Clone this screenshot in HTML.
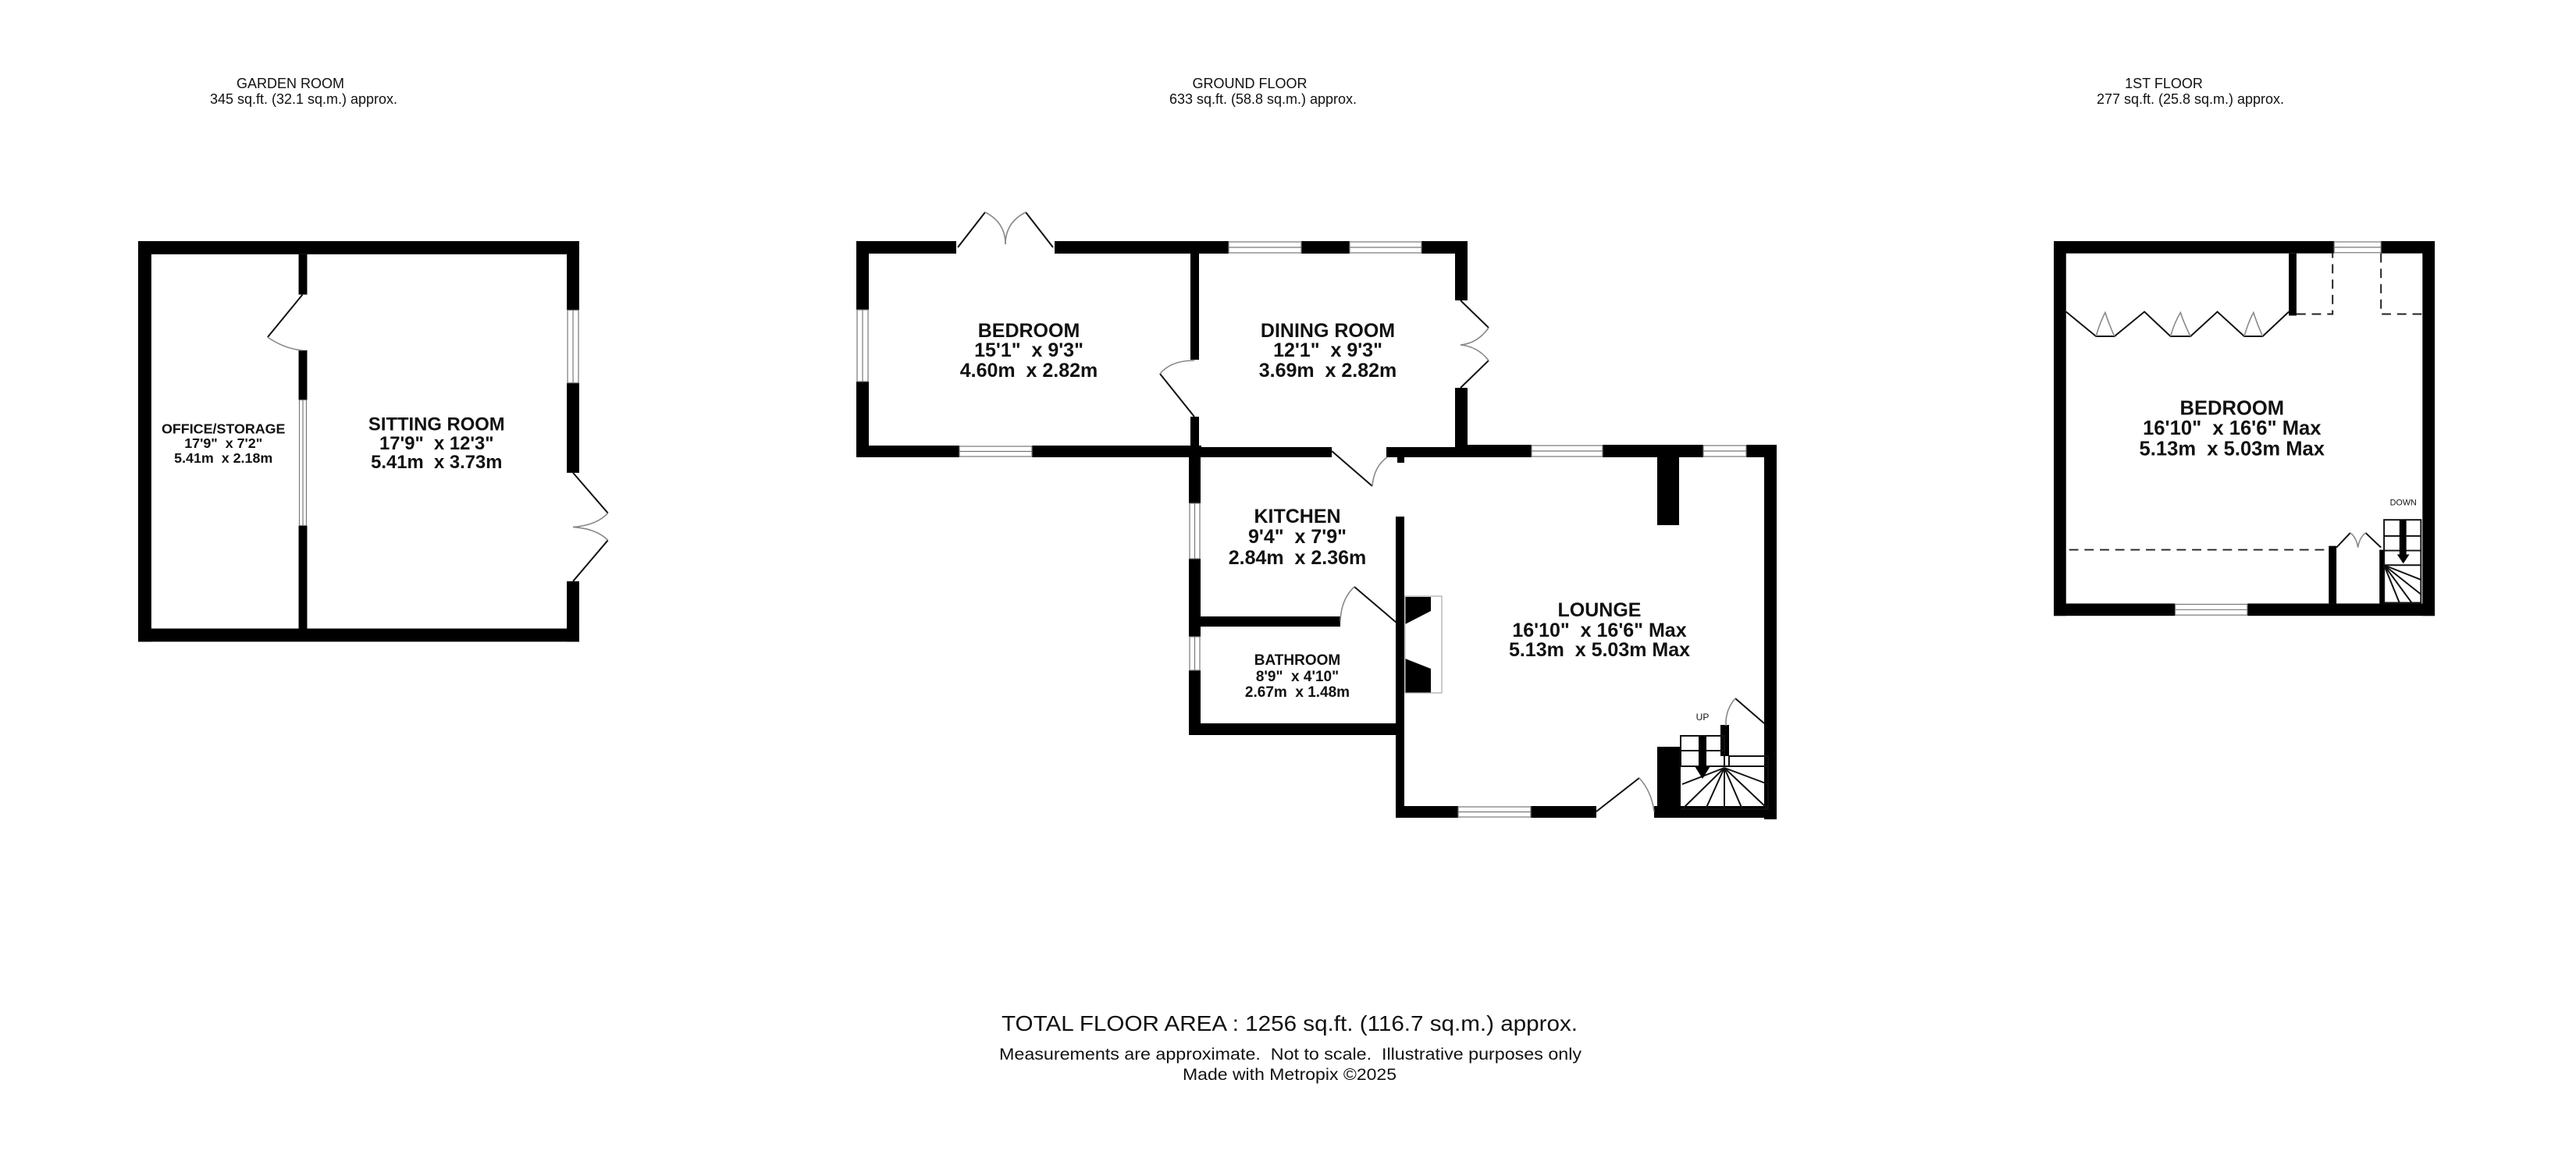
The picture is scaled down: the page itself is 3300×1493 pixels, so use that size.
<!DOCTYPE html>
<html><head><meta charset="utf-8"><style>
html,body{margin:0;padding:0;background:#fff;}
svg{display:block;}
text{font-family:"Liberation Sans",Arial,sans-serif;fill:#111;white-space:pre;}
.b{font-weight:bold;}
.w{fill:#fff;stroke:#777;stroke-width:1.2;}
.ln{stroke:#111;stroke-width:2;fill:none;}
.arc{stroke:#888;stroke-width:1.6;fill:none;}
.ds{stroke:#222;stroke-width:2;fill:none;stroke-dasharray:12,8;}
</style></head><body>
<svg width="3300" height="1493" viewBox="0 0 3300 1493" xmlns="http://www.w3.org/2000/svg" xml:space="preserve">
<rect width="3300" height="1493" fill="#fff"/>

<!-- Headers -->
<text x="372" y="113" font-size="18" text-anchor="middle">GARDEN ROOM</text>
<text x="389" y="133" font-size="18" text-anchor="middle">345 sq.ft. (32.1 sq.m.) approx.</text>
<text x="1601" y="113" font-size="18" text-anchor="middle">GROUND FLOOR</text>
<text x="1618" y="133" font-size="18" text-anchor="middle">633 sq.ft. (58.8 sq.m.) approx.</text>
<text x="2772" y="113" font-size="18" text-anchor="middle">1ST FLOOR</text>
<text x="2806" y="133" font-size="18" text-anchor="middle">277 sq.ft. (25.8 sq.m.) approx.</text>

<!-- ============ GARDEN ROOM ============ -->
<g transform="translate(177,309) scale(0.993) translate(-177,-309)">
<g fill="#000">
<rect x="177" y="309" width="569" height="17"/>
<rect x="177" y="809" width="569" height="17"/>
<rect x="177" y="309" width="17" height="517"/>
<rect x="730" y="309" width="16" height="89"/>
<rect x="730" y="492" width="16" height="116"/>
<rect x="730" y="748" width="16" height="78"/>
<rect x="384" y="326" width="11" height="52"/>
<rect x="384" y="450" width="11" height="64"/>
<rect x="384" y="676" width="11" height="133"/>
</g>
<rect class="w" x="731" y="398" width="14" height="94"/><line x1="738" y1="398" x2="738" y2="492" stroke="#777" stroke-width="1.2"/>
<rect class="w" x="385" y="514" width="9" height="162"/><line x1="389.5" y1="514" x2="389.5" y2="676" stroke="#777" stroke-width="1.2"/>
<line class="ln" x1="389" y1="378" x2="344" y2="433"/>
<path class="arc" d="M344 433 Q366 448 389 450"/>
<line class="ln" x1="738" y1="608" x2="783" y2="660"/>
<path class="arc" d="M783 660 Q768 676 738 678"/>
<line class="ln" x1="738" y1="748" x2="783" y2="695"/>
<path class="arc" d="M783 695 Q768 680 738 678"/>
<text class="b" x="287" y="557" font-size="18" text-anchor="middle">OFFICE/STORAGE</text>
<text class="b" x="287" y="576" font-size="18" text-anchor="middle">17'9"  x 7'2"</text>
<text class="b" x="287" y="595" font-size="18" text-anchor="middle">5.41m  x 2.18m</text>
<text class="b" x="562" y="553" font-size="24" text-anchor="middle">SITTING ROOM</text>
<text class="b" x="562" y="578" font-size="24" text-anchor="middle">17'9"  x 12'3"</text>
<text class="b" x="562" y="602" font-size="24" text-anchor="middle">5.41m  x 3.73m</text>
</g>

<!-- ============ GROUND FLOOR ============ -->
<g fill="#000">
<rect x="1097" y="309" width="128" height="16"/>
<rect x="1351" y="309" width="223" height="16"/>
<rect x="1667" y="309" width="62" height="16"/>
<rect x="1821" y="309" width="59" height="16"/>
<rect x="1864" y="309" width="16" height="76"/>
<rect x="1864" y="497" width="16" height="89"/>
<rect x="1097" y="309" width="16" height="88"/>
<rect x="1097" y="489" width="16" height="97"/>
<rect x="1097" y="571" width="132" height="15"/>
<rect x="1322" y="571" width="217" height="15"/>
<rect x="1525" y="325" width="11" height="136"/>
<rect x="1525" y="534" width="11" height="52"/>
<rect x="1536" y="573" width="170" height="13"/>
<rect x="1776" y="573" width="88" height="13"/>
<rect x="1790" y="586" width="9" height="7"/>
<rect x="1864" y="570" width="98" height="16"/>
<rect x="2053" y="570" width="129" height="16"/>
<rect x="2237" y="570" width="39" height="16"/>
<rect x="2260" y="570" width="16" height="480"/>
<rect x="2123" y="586" width="28" height="87"/>
<rect x="1523" y="586" width="15" height="59"/>
<rect x="1523" y="716" width="15" height="100"/>
<rect x="1523" y="859" width="15" height="83"/>
<rect x="1538" y="790" width="179" height="13"/>
<rect x="1788" y="662" width="11" height="386"/>
<rect x="1523" y="927" width="276" height="15"/>
<rect x="1788" y="1033" width="80" height="15"/>
<rect x="1961" y="1033" width="84" height="15"/>
<rect x="2119" y="1033" width="157" height="15"/>
<rect x="2123" y="957" width="30" height="80"/>
<rect x="2204" y="929" width="11" height="40"/>
<polygon points="1800,765 1833,765 1833,783 1800,800"/>
<polygon points="1800,844 1833,857 1833,888 1800,888"/>
</g>
<rect x="1800" y="764" width="47" height="124" fill="none" stroke="#aaa" stroke-width="1.2"/>
<rect class="w" x="1574" y="310" width="93" height="14"/><line x1="1574" y1="317" x2="1667" y2="317" stroke="#777" stroke-width="1.2"/>
<rect class="w" x="1729" y="310" width="92" height="14"/><line x1="1729" y1="317" x2="1821" y2="317" stroke="#777" stroke-width="1.2"/>
<rect class="w" x="1098" y="397" width="14" height="92"/><line x1="1105" y1="397" x2="1105" y2="489" stroke="#777" stroke-width="1.2"/>
<rect class="w" x="1229" y="572" width="93" height="13"/><line x1="1229" y1="578.5" x2="1322" y2="578.5" stroke="#777" stroke-width="1.2"/>
<rect class="w" x="1962" y="571" width="91" height="14"/><line x1="1962" y1="578" x2="2053" y2="578" stroke="#777" stroke-width="1.2"/>
<rect class="w" x="2182" y="571" width="55" height="14"/><line x1="2182" y1="578" x2="2237" y2="578" stroke="#777" stroke-width="1.2"/>
<rect class="w" x="1524" y="645" width="13" height="71"/><line x1="1530.5" y1="645" x2="1530.5" y2="716" stroke="#777" stroke-width="1.2"/>
<rect class="w" x="1524" y="816" width="13" height="43"/><line x1="1530.5" y1="816" x2="1530.5" y2="859" stroke="#777" stroke-width="1.2"/>
<rect class="w" x="1868" y="1034" width="93" height="13"/><line x1="1868" y1="1040.5" x2="1961" y2="1040.5" stroke="#777" stroke-width="1.2"/>
<line class="ln" x1="1227" y1="317" x2="1262" y2="272"/>
<path class="arc" d="M1262 272 Q1288 285 1288 313"/>
<line class="ln" x1="1349" y1="317" x2="1314" y2="272"/>
<path class="arc" d="M1314 272 Q1288 285 1288 313"/>
<line class="ln" x1="1871" y1="385" x2="1907" y2="420"/>
<path class="arc" d="M1907 420 Q1893 440 1871 442"/>
<line class="ln" x1="1871" y1="497" x2="1907" y2="462"/>
<path class="arc" d="M1907 462 Q1893 444 1871 442"/>
<line class="ln" x1="1530" y1="534" x2="1486" y2="479"/>
<path class="arc" d="M1486 479 Q1500 462 1530 462"/>
<line class="ln" x1="1706" y1="578" x2="1758" y2="623"/>
<path class="arc" d="M1758 623 Q1760 598 1777 586"/>
<line class="ln" x1="1789" y1="798" x2="1735" y2="752"/>
<path class="arc" d="M1735 752 Q1718 768 1717 796"/>
<line class="ln" x1="2045" y1="1040" x2="2100" y2="997"/>
<path class="arc" d="M2100 997 Q2116 1015 2119 1040"/>
<line class="ln" x1="2260" y1="927" x2="2223" y2="895"/>
<path class="arc" d="M2223 895 Q2210 910 2211 930"/>
<g stroke="#111" stroke-width="2" fill="none">
<rect x="2153" y="943" width="56" height="39"/>
<line x1="2153" y1="962" x2="2209" y2="962"/>
<rect x="2215" y="969" width="50" height="13"/>
<line x1="2153" y1="982" x2="2265" y2="982"/>
<line x1="2153" y1="1037" x2="2265" y2="1037"/>
<line x1="2265" y1="982" x2="2265" y2="1037"/>
<line x1="2209" y1="984" x2="2155" y2="1005"/>
<line x1="2209" y1="984" x2="2155" y2="1037"/>
<line x1="2209" y1="984" x2="2185" y2="1037"/>
<line x1="2209" y1="984" x2="2209" y2="1037"/>
<line x1="2209" y1="984" x2="2232" y2="1037"/>
<line x1="2209" y1="984" x2="2265" y2="1037"/>
<line x1="2209" y1="984" x2="2265" y2="1005"/>
</g>
<rect x="2176" y="943" width="10" height="39" fill="#000"/>
<polygon points="2171,982 2191,982 2181,998" fill="#000"/>
<text x="2181" y="923" font-size="12" text-anchor="middle">UP</text>
<text class="b" x="1318" y="432" font-size="25" text-anchor="middle">BEDROOM</text>
<text class="b" x="1318" y="457" font-size="25" text-anchor="middle">15'1"  x 9'3"</text>
<text class="b" x="1318" y="483" font-size="25" text-anchor="middle">4.60m  x 2.82m</text>
<text class="b" x="1701" y="432" font-size="25" text-anchor="middle">DINING ROOM</text>
<text class="b" x="1701" y="457" font-size="25" text-anchor="middle">12'1"  x 9'3"</text>
<text class="b" x="1701" y="483" font-size="25" text-anchor="middle">3.69m  x 2.82m</text>
<text class="b" x="1662" y="670" font-size="25" text-anchor="middle">KITCHEN</text>
<text class="b" x="1662" y="696" font-size="25" text-anchor="middle">9'4"  x 7'9"</text>
<text class="b" x="1662" y="723" font-size="25" text-anchor="middle">2.84m  x 2.36m</text>
<text class="b" x="1662" y="852" font-size="19" text-anchor="middle">BATHROOM</text>
<text class="b" x="1662" y="873" font-size="19" text-anchor="middle">8'9"  x 4'10"</text>
<text class="b" x="1662" y="893" font-size="19" text-anchor="middle">2.67m  x 1.48m</text>
<text class="b" x="2049" y="790" font-size="25" text-anchor="middle">LOUNGE</text>
<text class="b" x="2049" y="816" font-size="25" text-anchor="middle">16'10"  x 16'6" Max</text>
<text class="b" x="2049" y="841" font-size="25" text-anchor="middle">5.13m  x 5.03m Max</text>

<!-- ============ 1ST FLOOR ============ -->
<g transform="translate(2631,309) scale(0.984) translate(-2632,-309)">
<g fill="#000">
<rect x="2632" y="309" width="365" height="16"/>
<rect x="3058" y="309" width="70" height="16"/>
<rect x="2632" y="309" width="16" height="488"/>
<rect x="3112" y="309" width="16" height="488"/>
<rect x="2632" y="781" width="158" height="16"/>
<rect x="2884" y="781" width="244" height="16"/>
<rect x="2938" y="325" width="10" height="81"/>
<rect x="2990" y="706" width="10" height="75"/>
<rect x="3056" y="711" width="7" height="70"/>
</g>
<rect class="w" x="2997" y="310" width="61" height="14"/><line x1="2997" y1="317" x2="3058" y2="317" stroke="#777" stroke-width="1.2"/>
<rect class="w" x="2790" y="782" width="94" height="14"/><line x1="2790" y1="789" x2="2884" y2="789" stroke="#777" stroke-width="1.2"/>
<path class="ds" d="M2948 404 H2995 V325"/>
<path class="ds" d="M3058 325 V404 H3112"/>
<path class="ds" d="M2652 711 H2990"/>
<polyline class="ln" points="2648,401 2687,433 2711,433 2750,401 2784,433 2810,433 2845,401 2880,433 2904,433 2938,401"/>
<path class="arc" d="M2687 433 Q2692 415 2699 402 Q2703 415 2711 433"/>
<path class="arc" d="M2784 433 Q2789 415 2797 402 Q2801 415 2810 433"/>
<path class="arc" d="M2880 433 Q2885 415 2892 402 Q2896 415 2904 433"/>
<line class="ln" x1="3000" y1="708" x2="3018" y2="689"/>
<line class="ln" x1="3058" y1="708" x2="3038" y2="689"/>
<path class="arc" d="M3018 689 Q3026 695 3028 708 Q3030 695 3038 689"/>
<g stroke="#111" stroke-width="2" fill="none">
<rect x="3062" y="672" width="48" height="108"/>
<line x1="3062" y1="693" x2="3110" y2="693"/>
<line x1="3062" y1="712" x2="3110" y2="712"/>
<line x1="3062" y1="731" x2="3110" y2="731"/>
<line x1="3062" y1="731" x2="3110" y2="750"/>
<line x1="3062" y1="731" x2="3110" y2="769"/>
<line x1="3062" y1="731" x2="3098" y2="780"/>
<line x1="3062" y1="731" x2="3082" y2="780"/>
</g>
<rect x="3082" y="672" width="9" height="45" fill="#000"/>
<polygon points="3079,717 3095,717 3087,729" fill="#000"/>
<text x="3087" y="653" font-size="11" text-anchor="middle">DOWN</text>
<text class="b" x="2864" y="535" font-size="26" text-anchor="middle">BEDROOM</text>
<text class="b" x="2864" y="561" font-size="26" text-anchor="middle">16'10"  x 16'6" Max</text>
<text class="b" x="2864" y="588" font-size="26" text-anchor="middle">5.13m  x 5.03m Max</text>
</g>

<!-- Footer -->
<text x="1283" y="1321" font-size="28" textLength="738" lengthAdjust="spacingAndGlyphs">TOTAL FLOOR AREA : 1256 sq.ft. (116.7 sq.m.) approx.</text>
<text x="1280" y="1358" font-size="21" textLength="746" lengthAdjust="spacingAndGlyphs">Measurements are approximate.  Not to scale.  Illustrative purposes only</text>
<text x="1515" y="1384" font-size="21" textLength="274" lengthAdjust="spacingAndGlyphs">Made with Metropix ©2025</text>
</svg>
</body></html>
